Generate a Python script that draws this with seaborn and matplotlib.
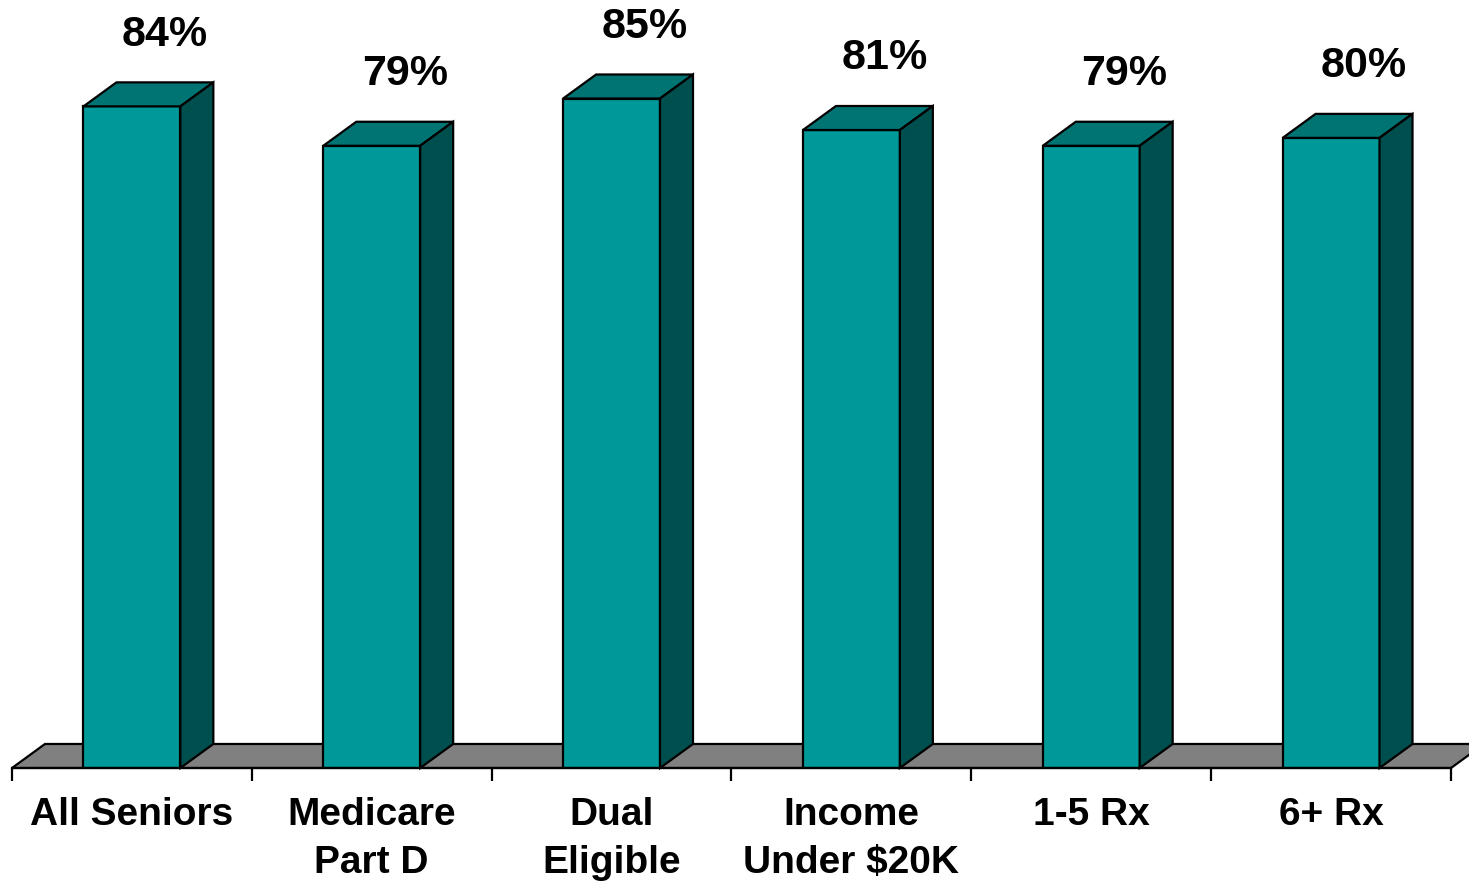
import matplotlib
matplotlib.use("Agg")
import matplotlib.pyplot as plt
from matplotlib.patches import Polygon
import seaborn as sns
import pandas as pd

categories = ["All Seniors", "Medicare\nPart D", "Dual\nEligible",
              "Income\nUnder \\$20K", "1-5 Rx", "6+ Rx"]
values = [84, 79, 85, 81, 79, 80]
value_labels = ["84%", "79%", "85%", "81%", "79%", "80%"]

FRONT = "#009999"
TOP = "#007373"
SIDE = "#004f4f"
FLOOR = "#808080"

sns.set_theme(style="white")
plt.rcParams["font.family"] = ["Liberation Sans", "DejaVu Sans"]

W, H = 1469, 886
fig = plt.figure(figsize=(W / 100, H / 100), dpi=100)
ax = fig.add_axes([12 / W, (H - 768) / H, 1439 / W, 764 / H])

df = pd.DataFrame({"group": categories, "pct": values})
sns.barplot(data=df, x="group", y="pct", width=0.404, color=FRONT,
            saturation=1, edgecolor="black", linewidth=1.6, ax=ax, zorder=3)

ax.set_xlim(-0.5, len(categories) - 0.5)
ax.set_ylim(0, 97)

# depth of the 3D extrusion in data units
dx, dy = 0.1375, 3.05

# floor slab
n = len(categories)
floor = Polygon([(-0.5, 0), (n - 0.5, 0), (n - 0.5 + dx, dy), (-0.5 + dx, dy)],
                closed=True, facecolor=FLOOR, edgecolor="black", linewidth=1.6,
                zorder=1, clip_on=False)
ax.add_patch(floor)

for patch, lab in zip(ax.patches[:n], value_labels):
    x0 = patch.get_x()
    w = patch.get_width()
    h = patch.get_height()
    x1 = x0 + w
    top = Polygon([(x0, h), (x1, h), (x1 + dx, h + dy), (x0 + dx, h + dy)],
                  closed=True, facecolor=TOP, edgecolor="black", linewidth=1.6,
                  zorder=4, clip_on=False)
    side = Polygon([(x1, 0), (x1 + dx, dy), (x1 + dx, h + dy), (x1, h)],
                   closed=True, facecolor=SIDE, edgecolor="black", linewidth=1.6,
                   zorder=4, clip_on=False)
    ax.add_patch(top)
    ax.add_patch(side)
    ax.text(x0 + w / 2 + dx, h + dy + 3.5, lab, ha="center", va="bottom",
            fontsize=31, fontweight="bold", color="black", zorder=5)

for s in ["top", "right", "left"]:
    ax.spines[s].set_visible(False)
ax.spines["bottom"].set_color("black")
ax.spines["bottom"].set_linewidth(1.6)
ax.spines["bottom"].set_zorder(5)

ax.set_yticks([])
ax.set_xlabel("")
ax.set_ylabel("")
ax.set_xticks(range(n))
ax.set_xticklabels(categories, fontsize=28, fontweight="bold", linespacing=1.42)
ax.tick_params(axis="x", which="major", length=0, pad=21, colors="black")
ax.set_xticks([i - 0.5 for i in range(n + 1)], minor=True)
ax.tick_params(axis="x", which="minor", length=9, width=1.6, color="black",
               bottom=True)

fig.savefig("out.png", dpi=100)
